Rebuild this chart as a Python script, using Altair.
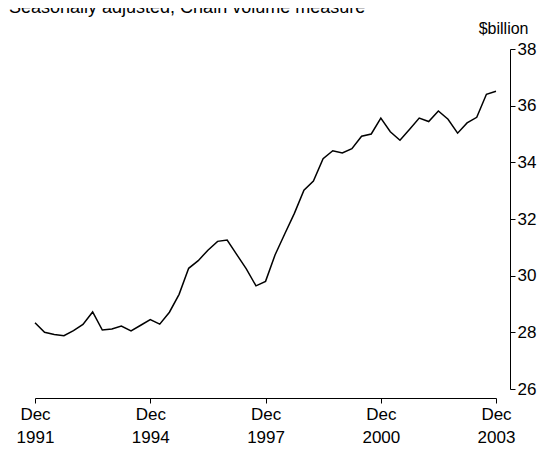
import altair as alt
import pandas as pd

subtitle = ["Seasonally adjusted, Chain volume measure"]

quarters = pd.date_range(start="1991-12-01", periods=49, freq="3MS").strftime("%Y-%m-%d").tolist()

values = [
    28.34, 28.00, 27.92, 27.88, 28.06, 28.28, 28.72, 28.08, 28.12, 28.22, 28.05, 28.25,
    28.45, 28.29, 28.71, 29.34, 30.26, 30.53, 30.90, 31.21, 31.26, 30.75, 30.24, 29.64,
    29.80, 30.73, 31.47, 32.20, 33.02, 33.34, 34.13, 34.41, 34.33, 34.48, 34.92, 35.00,
    35.56, 35.08, 34.78, 35.17, 35.56, 35.44, 35.81, 35.52, 35.03, 35.39, 35.59, 36.40,
    36.51,
]

tick_years = [1991, 1994, 1997, 2000, 2003]
y_ticks = [26, 28, 30, 32, 34, 36, 38]

df = pd.DataFrame({"date": quarters, "value": values})
FONT = "Liberation Sans"

line = alt.Chart(df).mark_line(color="black", strokeWidth=1.5).encode(
    x=alt.X(
        "date:T",
        scale=alt.Scale(type="utc", nice=False),
        axis=alt.Axis(
            title=None,
            values=[alt.DateTime(year=y, month=12, date=1, utc=True) for y in tick_years],
            labelExpr="[utcFormat(datum.value, '%b'), utcFormat(datum.value, '%Y')]",
            offset=9,
            tickSize=5,
            labelPadding=3,
            labelBaseline="top",
            labelLineHeight=23,
            labelFontSize=17,
            labelAlign="center",
            labelOverlap=False,
            labelFlush=False,
            grid=False,
        ),
    ),
    y=alt.Y(
        "value:Q",
        scale=alt.Scale(domain=[26, 38], nice=False, zero=False),
        axis=alt.Axis(
            orient="right",
            values=y_ticks,
            offset=14,
            tickSize=5,
            labelPadding=2,
            labelFontSize=17,
            grid=False,
            title="$billion",
            titleAngle=0,
            titleAlign="right",
            titleBaseline="alphabetic",
            titleX=18,
            titleY=-16,
            titleFontWeight="normal",
            titleFontSize=16,
            titleFont=FONT,
            titleColor="black",
        ),
    ),
)

sub = alt.Chart(pd.DataFrame({"t": subtitle})).mark_text(
    align="left", baseline="alphabetic", fontSize=18, font=FONT, color="black"
).encode(x=alt.value(-26), y=alt.value(-36), text="t:N")

chart = alt.layer(line, sub).properties(
    width=461,
    height=340,
    autosize=alt.AutoSizeParams(type="none"),
    padding={"left": 27, "top": 41, "right": 41, "bottom": 62},
).configure_view(stroke=None).configure_axis(
    domainColor="black",
    tickColor="black",
    labelColor="black",
    labelFont=FONT,
    domainWidth=1,
    tickWidth=1,
)

chart.save("out.html", embed_options={"renderer": "svg", "actions": False})
